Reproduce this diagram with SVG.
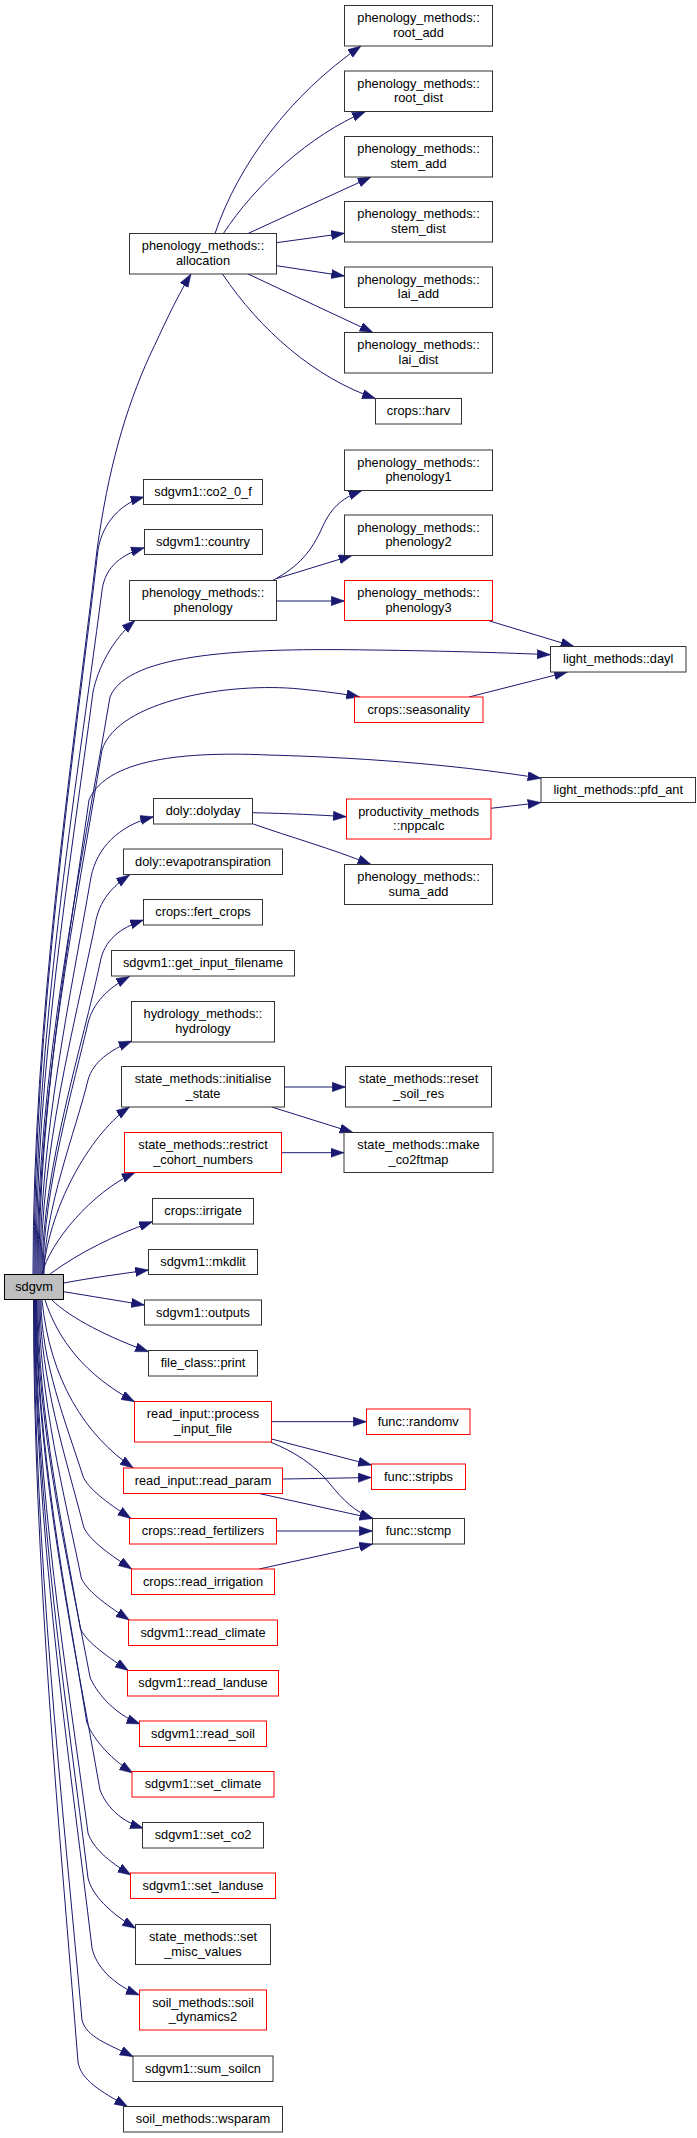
<svg xmlns="http://www.w3.org/2000/svg" width="697" height="2138" viewBox="0 0 697 2138">
<defs>
<marker id="ah" markerUnits="userSpaceOnUse" markerWidth="14" markerHeight="10" refX="13.3" refY="4.65" orient="auto">
<path d="M0,0 L13.3,4.65 L0,9.3 z" fill="#191970" stroke="#191970" stroke-width="0.5"/>
</marker>
<style>
rect{fill:#fff;stroke:#333;stroke-width:1}
.r rect{stroke:#f00}
.root rect{fill:#bfbfbf;stroke:#000}
text{font-family:"Liberation Sans",Arial,Helvetica,sans-serif;font-size:12.8px;text-anchor:middle;fill:#000}
#edges path{fill:none;stroke:#191970;stroke-width:1;marker-end:url(#ah)}
</style>
</defs>
<rect x="0" y="0" width="697" height="2138" style="fill:#fff;stroke:none"/>
<g id="edges">
<path d="M33,1274 C33,1020.6 71.4,767.2 97,550 C108,470 125,410 150,355 C162,330 175,300 191,274"/>
<path d="M34,1274 C34,1020.6 72.4,767.2 98,550 C101,530 115,505 144,497"/>
<path d="M35,1274 C35,1035.7 75,797.3 101.7,593 C104,570 117,556 144.3,547.7"/>
<path d="M36,1274 C36,1070.3 70.2,866.6 93,692 C98,668 112,640 135,620.5"/>
<path d="M37,1274 C37,1072 80.8,870.1 110,697 C128,652 250,648 371,650 C450,651 510,653 550.5,654.7"/>
<path d="M38,1274 C38,1090.6 76.4,907 102,750 C118,700 230,682 300,689 C325,691.5 345,694 359.7,697"/>
<path d="M39,1274 C39,1108.1 69,942.2 89,800 C108,755 200,752 268,755 C380,758 470,767 541,778.3"/>
<path d="M40,1274 C40,1135 70.6,996.1 91,877 C97,848 118,826 153.5,816.7"/>
<path d="M41,1274 C41,1151.9 73.4,1029.7 95,925 C99,900 113,886 129.5,875"/>
<path d="M42,1274 C42,1170 84,1040 100,963 C104,940 120,928 143.5,920"/>
<path d="M43,1274 C43,1190 75,1080 88,1023 C93,1003 108,988 129.5,976.5"/>
<path d="M44,1274 C44,1210 76,1130 88,1080 C93,1062 110,1050 132,1041"/>
<path d="M43,1274 C50,1200 95,1130 129.5,1107"/>
<path d="M42,1274 C50,1242 92,1192 135,1172.5"/>
<path d="M50,1274 C80,1252 115,1235 152.5,1221.7"/>
<path d="M63.5,1283 C90,1278 120,1274 148.5,1270"/>
<path d="M63.5,1291.7 C90,1296 120,1301 144.5,1305"/>
<path d="M52,1300 C70,1318 110,1338 148.5,1351.7"/>
<path d="M45,1300 C58,1340 85,1375 134.5,1401.7"/>
<path d="M42,1300 C50,1380 85,1435 133.3,1468"/>
<path d="M41,1300 C41,1361.7 66.2,1423.4 83,1476.3 C88,1488.3 105,1501.3 131,1518.5"/>
<path d="M40,1300 C40,1379.5 66.2,1458.9 83.7,1527 C88.7,1539 105.7,1552 131.7,1569"/>
<path d="M39,1300 C39,1397.3 64.4,1494.6 81.3,1578 C86.3,1590 103.3,1603 129.3,1620"/>
<path d="M38,1300 C38,1414.9 63.4,1529.8 80.3,1628.3 C85.3,1640.3 102.3,1653.3 128.3,1670.5"/>
<path d="M37,1300 C37,1432 68.8,1563.9 90,1677 C95,1690 112,1713 140,1724"/>
<path d="M36.5,1300 C36.5,1447.7 66.6,1595.4 86.7,1722 C91.7,1736 106.7,1756 132.7,1773"/>
<path d="M36,1300 C36,1471.5 74.4,1643 100,1790 C106,1805 118,1820 143.3,1828.3"/>
<path d="M35.5,1300 C35.5,1486.6 67,1673.1 88,1833 C93,1848 108,1861 131,1875"/>
<path d="M35,1300 C35,1502.3 66.8,1704.6 88,1878 C92,1895 110,1913 135.7,1928.3"/>
<path d="M34.5,1300 C34.5,1526.8 69,1753.6 92,1948 C96,1966 112,1984 139.3,1995"/>
<path d="M34,1300 C34,1552 62.8,1804 82,2020 C86,2037 108,2044 133.3,2056.7"/>
<path d="M33.5,1300 C33.5,1566.7 60.2,1833.4 78,2062 C81,2080 100,2091 127.7,2106.7"/>
<path d="M215,233.5 C238,165 290,95 361,46"/>
<path d="M223.4,233.5 C255,185 310,135 365.5,111.5"/>
<path d="M248,233.5 L371,177"/>
<path d="M276.5,242.7 L344.5,233.3"/>
<path d="M276.5,265.7 L344.5,276"/>
<path d="M248,274 L373,332.5"/>
<path d="M222.5,274 C260,330 315,378 375.5,398.5"/>
<path d="M272.6,580.5 C300,566 312,550 322,528 C332,505 345,497 362,490.5"/>
<path d="M277,578.5 L352,555.5"/>
<path d="M276.5,601 L344.5,601"/>
<path d="M489.3,620.9 L574,646.5"/>
<path d="M469,697 L567.5,672"/>
<path d="M252.5,812.7 C290,813.5 320,815 346.5,816.7"/>
<path d="M253.3,824 C290,837 330,848 371,864.5"/>
<path d="M491,808.3 L541,802.5"/>
<path d="M284.5,1087 L345.5,1087"/>
<path d="M271.7,1107 L353,1132.5"/>
<path d="M281.5,1152.7 L344,1152.7"/>
<path d="M271.5,1421.7 L366.5,1421.7"/>
<path d="M271.5,1439 L371.5,1465"/>
<path d="M270.3,1442 C295,1452 315,1465 330,1484 C343,1500 355,1512 373,1518.5"/>
<path d="M282.5,1479 C320,1478.5 340,1478 371.5,1477.5"/>
<path d="M259.2,1493.5 L373,1518.5"/>
<path d="M276.5,1531 L372.5,1531"/>
<path d="M259.2,1569 L372.7,1544"/>
</g>

<g id="n_sdgvm" class="root"><rect x="4.5" y="1274.5" width="59" height="25"/><text x="34" y="1291">sdgvm</text></g>

<g id="n_allocation"><rect x="129.5" y="233.5" width="147" height="40.5"/><text x="203" y="250">phenology_methods::</text><text x="203" y="264.5">allocation</text></g>
<g id="n_co2_0_f"><rect x="143.5" y="479.5" width="119" height="25"/><text x="203" y="496">sdgvm1::co2_0_f</text></g>
<g id="n_country"><rect x="144.5" y="529.5" width="118" height="25"/><text x="203" y="546">sdgvm1::country</text></g>
<g id="n_phenology"><rect x="129.5" y="580.5" width="147" height="40"/><text x="203" y="597">phenology_methods::</text><text x="203" y="611.5">phenology</text></g>
<g id="n_dolyday"><rect x="153.5" y="798.5" width="99" height="25.5"/><text x="203" y="815">doly::dolyday</text></g>
<g id="n_evapotranspiration"><rect x="123.5" y="849" width="159" height="25.5"/><text x="203" y="865.5">doly::evapotranspiration</text></g>
<g id="n_fert_crops"><rect x="143.5" y="899.5" width="119" height="25.5"/><text x="203" y="916">crops::fert_crops</text></g>
<g id="n_get_input_filename"><rect x="111.5" y="950.5" width="183" height="25.5"/><text x="203" y="967">sdgvm1::get_input_filename</text></g>
<g id="n_hydrology"><rect x="131.5" y="1001.5" width="143" height="40.5"/><text x="203" y="1018">hydrology_methods::</text><text x="203" y="1032.5">hydrology</text></g>
<g id="n_initialise_state"><rect x="121.5" y="1066.5" width="163" height="40.5"/><text x="203" y="1083">state_methods::initialise</text><text x="203" y="1097.5">_state</text></g>
<g id="n_restrict_cohort_numbers" class="r"><rect x="124.5" y="1132.5" width="157" height="40"/><text x="203" y="1149">state_methods::restrict</text><text x="203" y="1163.5">_cohort_numbers</text></g>
<g id="n_irrigate"><rect x="152.5" y="1198.5" width="101" height="25.5"/><text x="203" y="1215">crops::irrigate</text></g>
<g id="n_mkdlit"><rect x="148.5" y="1249.5" width="109" height="25"/><text x="203" y="1266">sdgvm1::mkdlit</text></g>
<g id="n_outputs"><rect x="144.5" y="1300" width="117" height="25"/><text x="203" y="1316.5">sdgvm1::outputs</text></g>
<g id="n_print"><rect x="148.5" y="1350.5" width="109" height="25.5"/><text x="203" y="1367">file_class::print</text></g>
<g id="n_process_input_file" class="r"><rect x="134.5" y="1401.5" width="137" height="40.5"/><text x="203" y="1418">read_input::process</text><text x="203" y="1432.5">_input_file</text></g>
<g id="n_read_param" class="r"><rect x="123.5" y="1468" width="159" height="25.5"/><text x="203" y="1484.5">read_input::read_param</text></g>
<g id="n_read_fertilizers" class="r"><rect x="129.5" y="1518.5" width="147" height="25.5"/><text x="203" y="1535">crops::read_fertilizers</text></g>
<g id="n_read_irrigation" class="r"><rect x="131.5" y="1569" width="143" height="25.5"/><text x="203" y="1585.5">crops::read_irrigation</text></g>
<g id="n_read_climate" class="r"><rect x="128.5" y="1620" width="149" height="25.5"/><text x="203" y="1636.5">sdgvm1::read_climate</text></g>
<g id="n_read_landuse" class="r"><rect x="127.5" y="1670.5" width="151" height="25.5"/><text x="203" y="1687">sdgvm1::read_landuse</text></g>
<g id="n_read_soil" class="r"><rect x="139.5" y="1721" width="127" height="25.5"/><text x="203" y="1737.5">sdgvm1::read_soil</text></g>
<g id="n_set_climate" class="r"><rect x="132" y="1771.5" width="142" height="25.5"/><text x="203" y="1788">sdgvm1::set_climate</text></g>
<g id="n_set_co2"><rect x="142.5" y="1822.5" width="121" height="25.5"/><text x="203" y="1839">sdgvm1::set_co2</text></g>
<g id="n_set_landuse" class="r"><rect x="130.5" y="1873" width="145" height="25.5"/><text x="203" y="1889.5">sdgvm1::set_landuse</text></g>
<g id="n_set_misc_values"><rect x="135.5" y="1924.5" width="135" height="40"/><text x="203" y="1941">state_methods::set</text><text x="203" y="1955.5">_misc_values</text></g>
<g id="n_soil_dynamics2" class="r"><rect x="139.5" y="1990" width="127" height="40"/><text x="203" y="2006.5">soil_methods::soil</text><text x="203" y="2021">_dynamics2</text></g>
<g id="n_sum_soilcn"><rect x="133" y="2056" width="140" height="25.5"/><text x="203" y="2072.5">sdgvm1::sum_soilcn</text></g>
<g id="n_wsparam"><rect x="123.5" y="2106.5" width="159" height="25.5"/><text x="203" y="2123">soil_methods::wsparam</text></g>

<g id="n_root_add"><rect x="344.5" y="5.5" width="148" height="40.5"/><text x="418.5" y="22">phenology_methods::</text><text x="418.5" y="36.5">root_add</text></g>
<g id="n_root_dist"><rect x="344.5" y="71" width="148" height="40.5"/><text x="418.5" y="87.5">phenology_methods::</text><text x="418.5" y="102">root_dist</text></g>
<g id="n_stem_add"><rect x="344.5" y="136.5" width="148" height="40.5"/><text x="418.5" y="153">phenology_methods::</text><text x="418.5" y="167.5">stem_add</text></g>
<g id="n_stem_dist"><rect x="344.5" y="201.5" width="148" height="40.5"/><text x="418.5" y="218">phenology_methods::</text><text x="418.5" y="232.5">stem_dist</text></g>
<g id="n_lai_add"><rect x="344.5" y="267" width="148" height="40.5"/><text x="418.5" y="283.5">phenology_methods::</text><text x="418.5" y="298">lai_add</text></g>
<g id="n_lai_dist"><rect x="344.5" y="332.5" width="148" height="40.5"/><text x="418.5" y="349">phenology_methods::</text><text x="418.5" y="363.5">lai_dist</text></g>
<g id="n_harv"><rect x="375.5" y="398.5" width="86" height="25.5"/><text x="418.5" y="415">crops::harv</text></g>
<g id="n_phenology1"><rect x="344.5" y="450" width="148" height="40.5"/><text x="418.5" y="466.5">phenology_methods::</text><text x="418.5" y="481">phenology1</text></g>
<g id="n_phenology2"><rect x="344.5" y="515" width="148" height="40.5"/><text x="418.5" y="531.5">phenology_methods::</text><text x="418.5" y="546">phenology2</text></g>
<g id="n_phenology3" class="r"><rect x="344.5" y="580.5" width="148" height="40"/><text x="418.5" y="597">phenology_methods::</text><text x="418.5" y="611.5">phenology3</text></g>
<g id="n_seasonality" class="r"><rect x="354.5" y="697" width="128.5" height="25.5"/><text x="418.7" y="713.5">crops::seasonality</text></g>
<g id="n_nppcalc" class="r"><rect x="346.5" y="799" width="144.5" height="40"/><text x="418.7" y="815.5">productivity_methods</text><text x="418.7" y="830">::nppcalc</text></g>
<g id="n_suma_add"><rect x="344.5" y="864.5" width="148" height="40"/><text x="418.5" y="881">phenology_methods::</text><text x="418.5" y="895.5">suma_add</text></g>
<g id="n_reset_soil_res"><rect x="345.5" y="1066.5" width="146" height="40.5"/><text x="418.5" y="1083">state_methods::reset</text><text x="418.5" y="1097.5">_soil_res</text></g>
<g id="n_make_co2ftmap"><rect x="344" y="1132.5" width="149" height="40"/><text x="418.5" y="1149">state_methods::make</text><text x="418.5" y="1163.5">_co2ftmap</text></g>
<g id="n_randomv" class="r"><rect x="366.5" y="1409" width="103.5" height="25.5"/><text x="418.2" y="1425.5">func::randomv</text></g>
<g id="n_stripbs" class="r"><rect x="371.5" y="1464" width="94" height="25.5"/><text x="418.5" y="1480.5">func::stripbs</text></g>
<g id="n_stcmp"><rect x="372.5" y="1518.5" width="92" height="25.5"/><text x="418.5" y="1535">func::stcmp</text></g>

<g id="n_dayl"><rect x="550.5" y="646.5" width="135.5" height="25.5"/><text x="618.2" y="663">light_methods::dayl</text></g>
<g id="n_pfd_ant"><rect x="541" y="777.5" width="154.5" height="25"/><text x="618.2" y="794">light_methods::pfd_ant</text></g>
</svg>
